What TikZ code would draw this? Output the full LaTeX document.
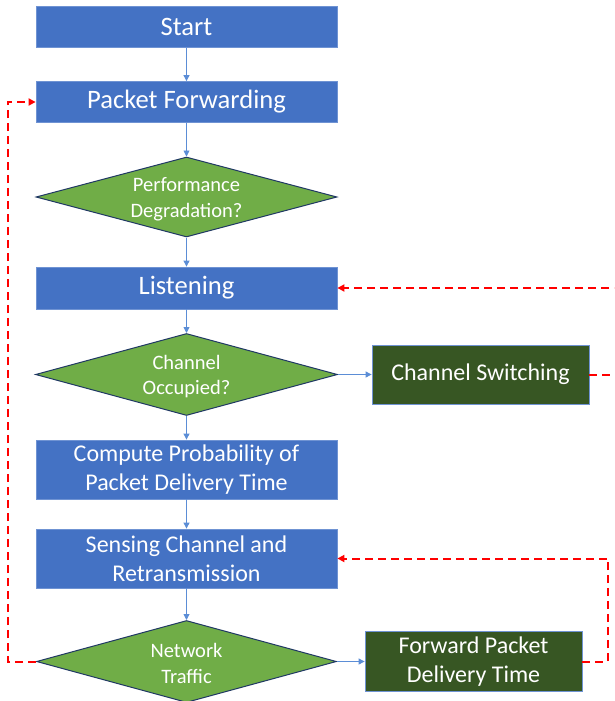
\documentclass[tikz,border=0pt]{standalone}
\usepackage{fontspec}
\setmainfont{Carlito}
\usetikzlibrary{shapes.geometric,arrows.meta}
\definecolor{boxblue}{HTML}{4472C4}
\definecolor{boxedge}{HTML}{6F93D3}
\definecolor{dkgreen}{HTML}{375623}
\definecolor{ltgreen}{HTML}{70AD47}
\definecolor{navyedge}{HTML}{203864}
\definecolor{flowblue}{HTML}{5B8DD6}
\definecolor{looped}{HTML}{FF0000}
\tikzset{
  procbox/.style={draw=boxedge, fill=boxblue, line width=0.8pt, text=white, align=center, inner sep=0pt},
  actbox/.style={draw=boxedge, fill=dkgreen, line width=0.8pt, text=white, align=center, inner sep=0pt},
  decision/.style={diamond, draw=navyedge, fill=ltgreen, line width=1pt, inner sep=0pt},
  dectext/.style={text=white, align=center, inner sep=0pt, font=\fontsize{20.5}{25.5}\selectfont},
  bigtxt/.style={font=\fontsize{26.6}{32}\selectfont},
  twotxt/.style={font=\fontsize{24}{29}\selectfont},
  flowarrow/.style={draw=flowblue, line width=0.9pt, -{Triangle[length=6pt,width=6pt]}},
  loopline/.style={draw=looped, line width=2pt, dash pattern=on 8pt off 5pt, -{Triangle[length=7pt,width=7pt]}}
}
\begin{document}
\begin{tikzpicture}[x=1pt,y=-1pt]
\useasboundingbox (0,0) rectangle (614,701);
\clip (0,0) rectangle (614,701);
% main column
\node[procbox,bigtxt,minimum width=301pt,minimum height=41pt] (start) at (186.5,27) {Start};
\node[procbox,bigtxt,minimum width=301pt,minimum height=41pt] (pf) at (186.5,102) {Packet Forwarding};
\node[decision,minimum width=301pt,minimum height=80pt] (perf) at (186.5,197) {};
\node[dectext] (perft) at ([yshift=-2pt]perf.center) {Performance\\Degradation?};
\node[procbox,bigtxt,minimum width=301pt,minimum height=42pt] (listen) at (186.5,288) {Listening};
\node[decision,minimum width=302pt,minimum height=82pt] (chocc) at (186.5,374.5) {};
\node[dectext] (chocct) at ([yshift=-2pt]chocc.center) {Channel\\Occupied?};
\node[actbox,twotxt,minimum width=217pt,minimum height=59pt] (chsw) at (480.5,374.5) {Channel Switching};
\node[procbox,twotxt,minimum width=301pt,minimum height=59pt] (compute) at (186.5,469.5) {Compute Probability of\\Packet Delivery Time};
\node[procbox,twotxt,minimum width=301pt,minimum height=59pt] (sensing) at (186.5,558.5) {Sensing Channel and\\Retransmission};
\node[decision,minimum width=300pt,minimum height=82pt] (net) at (186.5,661.5) {};
\node[dectext] (nett) at ([yshift=-2pt]net.center) {Network\\Traffic};
\node[actbox,twotxt,minimum width=217pt,minimum height=60pt] (fwd) at (473.5,661.5) {Forward Packet\\Delivery Time};
% solid flow
\draw[flowarrow] (start) -- (pf);
\draw[flowarrow] (pf) -- (perf);
\draw[flowarrow] (perf) -- (listen);
\draw[flowarrow] (listen) -- (chocc);
\draw[flowarrow] (chocc) -- (compute);
\draw[flowarrow] (compute) -- (sensing);
\draw[flowarrow] (sensing) -- (net);
\draw[flowarrow] (chocc.east) -- (chsw.west);
\draw[flowarrow] (net.east) -- (fwd.west);
% dashed loops
\coordinate (lft) at (7.5,400);
\coordinate (rgt) at (608,600);
\coordinate (far) at (634,330);
\draw[loopline] (net.west) -| (lft) |- (pf.west);
\draw[loopline] (fwd.east) -| (rgt) |- (sensing.east);
\draw[loopline] (chsw.east) -| (far) |- (listen.east);
\end{tikzpicture}
\end{document}
